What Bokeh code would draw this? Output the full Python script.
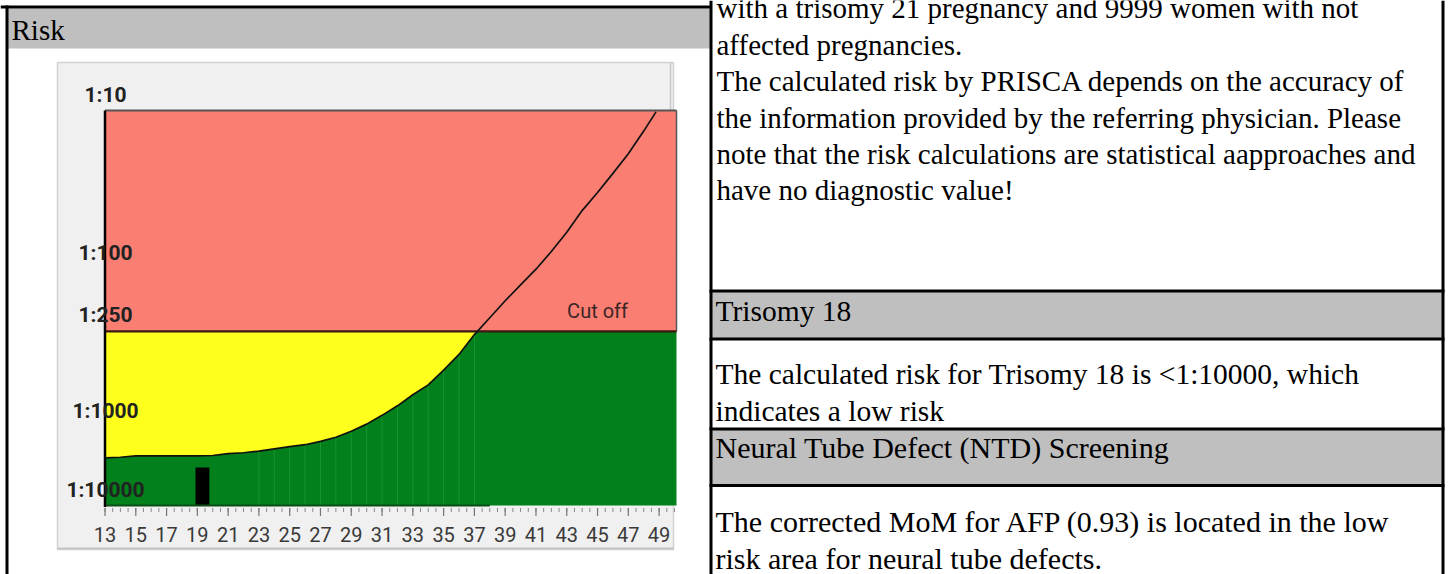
import numpy as np
from bokeh.plotting import figure
from bokeh.models import Range1d
from bokeh.core.properties import value
from bokeh.embed import file_html
from bokeh.resources import INLINE

# ---------------- data ----------------
ages = [13, 14, 15, 16, 17, 18, 19, 20, 21, 22, 23, 24, 25, 26, 27, 28, 29, 30,
        31, 32, 33, 34, 35, 36, 37, 38, 39, 40, 41, 42, 43, 44, 45, 46, 47, 48, 48.8]
risk_denominator = [2500, 2450, 2350, 2350, 2350, 2350, 2350, 2330, 2210, 2150, 2050,
                    1920, 1800, 1700, 1540, 1368, 1150, 966, 850, 740, 630, 545, 440,
                    350, 262, 205, 160, 127, 101, 78, 59, 43, 33, 25, 18.8, 13.5, 10.2]
cutoff_risk = 250
patient_age = 19.33
patient_risk = 3300
x_tick_labels = ["13", "15", "17", "19", "21", "23", "25", "27", "29", "31",
                 "33", "35", "37", "39", "41", "43", "45", "47", "49"]
y_tick_risks = [10, 100, 250, 1000, 10000]
y_tick_labels = ["1:10", "1:100", "1:250", "1:1000", "1:10000"]
cutoff_label = "Cut off"

header_left = "Risk"
para_lines = ["with a trisomy 21 pregnancy and 9999 women with not",
              "affected pregnancies.",
              "The calculated risk by PRISCA depends on the accuracy of",
              "the information provided by the referring physician. Please",
              "note that the risk calculations are statistical aapproaches and",
              "have no diagnostic value!"]
t18_header = "Trisomy 18"
t18_lines = ["The calculated risk for Trisomy 18 is <1:10000, which",
             "indicates a low risk"]
ntd_header = "Neural Tube Defect (NTD) Screening"
ntd_lines = ["The corrected MoM for AFP (0.93) is located in the low",
             "risk area for neural tube defects."]

# ---------------- layout constants (page pixels) ----------------
W, H = 1453, 574
PX0, PX1 = 0, W
PY0, PY1 = 0, H
CH_L, CH_R = 104.5, 676.0
CH_T, CH_B = 110.0, 505.0
AGE_MIN, AGE_MAX = 13.0, 50.13
POS_TOP, POS_BOT = 1.0, 3.5


def pos(r):
    l = np.log10(np.asarray(r, dtype=float))
    return np.where(l <= 3, l, 3 + (l - 3) / 2.0)


sx = (CH_R - CH_L) / (AGE_MAX - AGE_MIN)
sy = (CH_B - CH_T) / (POS_BOT - POS_TOP)

p = figure(width=W, height=H, output_backend="svg", toolbar_location=None,
           x_axis_type=None, y_axis_type=None, min_border=0,
           x_range=Range1d(PX0, PX1), y_range=Range1d(PY1, PY0))
p.outline_line_color = None
p.background_fill_color = "white"
p.border_fill_color = "white"
p.grid.visible = False
p.extra_x_ranges = {"age": Range1d(AGE_MIN - (CH_L - PX0) / sx, AGE_MIN + (PX1 - CH_L) / sx)}
p.extra_y_ranges = {"risk": Range1d(POS_TOP + (PY1 - CH_T) / sy, POS_TOP + (PY0 - CH_T) / sy)}

SERIF = value("Liberation Serif")
SANS = value("Roboto")

# ---------------- document frame ----------------
GRAY = "#bfbfbf"
p.quad(left=7, right=710, top=8, bottom=48, fill_color=GRAY, line_color=None)
p.quad(left=711, right=1442, top=291, bottom=338, fill_color=GRAY, line_color=None)
p.quad(left=711, right=1442, top=429, bottom=485, fill_color=GRAY, line_color=None)

# ---------------- chart background ----------------
p.quad(left=57, right=673, top=62, bottom=549, fill_color="#f0f0f0",
       line_color="#d2d2d2", line_width=1.5)
p.segment(x0=57, x1=673, y0=548, y1=548, line_color="#c4c4c4", line_width=2)
p.segment(x0=670, x1=670, y0=62, y1=110, line_color="#c8c8c8", line_width=1.5)

ages_a = np.array(ages, dtype=float)
cpos = pos(risk_denominator)
cut = float(pos(cutoff_risk))

# green zone
p.quad(left=AGE_MIN, right=AGE_MAX, top=cut, bottom=POS_BOT, fill_color="#01801b",
       line_color=None, x_range_name="age", y_range_name="risk")
# yellow zone between cut-off and curve
i = int(np.argmax(cpos < cut))
xc = ages_a[i - 1] + (cut - cpos[i - 1]) * (ages_a[i] - ages_a[i - 1]) / (cpos[i] - cpos[i - 1])
yx = np.concatenate([ages_a[:i], [xc]])
yy = np.concatenate([cpos[:i], [cut]])
p.varea(x=yx, y1=np.full(len(yx), cut), y2=yy, fill_color="#ffff1e",
        x_range_name="age", y_range_name="risk")
# faint strip lines in the green
mask = (ages_a >= 23) & (ages_a <= 37)
p.segment(x0=ages_a[mask], x1=ages_a[mask], y0=cpos[mask], y1=np.full(mask.sum(), POS_BOT),
          line_color="#2aa83c", line_alpha=0.55, line_width=1,
          x_range_name="age", y_range_name="risk")
# red zone
p.quad(left=AGE_MIN, right=AGE_MAX, top=POS_TOP, bottom=cut, fill_color="#fa7f72",
       line_color=None, x_range_name="age", y_range_name="risk")

# patient bar
p.vbar(x=patient_age, width=0.9, bottom=POS_BOT, top=float(pos(patient_risk)),
       fill_color="black", line_color=None, x_range_name="age", y_range_name="risk")

# chart frame lines
p.segment(x0=AGE_MIN, x1=AGE_MAX, y0=POS_TOP, y1=POS_TOP, line_color="#555555",
          line_width=2, x_range_name="age", y_range_name="risk")
p.segment(x0=AGE_MAX, x1=AGE_MAX, y0=POS_TOP, y1=cut, line_color="#555555",
          line_width=1.5, x_range_name="age", y_range_name="risk")
p.segment(x0=AGE_MIN, x1=38, y0=POS_BOT, y1=POS_BOT, line_color="#0c4d16",
          line_width=2, x_range_name="age", y_range_name="risk")
p.segment(x0=AGE_MIN, x1=AGE_MAX, y0=cut, y1=cut, line_color="#3d1812",
          line_width=2.2, x_range_name="age", y_range_name="risk")
p.segment(x0=AGE_MIN, x1=AGE_MIN, y0=POS_TOP, y1=POS_BOT + 0.01, line_color="black",
          line_width=2.5, x_range_name="age", y_range_name="risk")

# risk curve
p.line(ages_a, cpos, line_color="#111111", line_width=1.7,
       x_range_name="age", y_range_name="risk")

# x ticks
minor = np.arange(AGE_MIN, 50.01, 0.5)
p.segment(x0=minor, x1=minor, y0=np.full(len(minor), 507.5), y1=np.full(len(minor), 511.5),
          line_color="#8a8a8a", line_width=1, x_range_name="age")
major = np.array([float(t) for t in x_tick_labels])
p.segment(x0=major, x1=major, y0=np.full(len(major), 507.5), y1=np.full(len(major), 515.5),
          line_color="#777777", line_width=1.2, x_range_name="age")
p.text(x=major, y=np.full(len(major), 534), text=x_tick_labels, text_font=SANS,
       text_font_size="20px", text_color="#3a3a3a", text_align="center",
       text_baseline="middle", x_range_name="age")

# y labels
p.text(x=np.full(len(y_tick_risks), 105.0), y=pos(y_tick_risks), text=y_tick_labels,
       text_font=SANS, text_font_size="21px", text_font_style="bold", text_color="#222222",
       text_align="center", text_baseline="middle", y_offset=-16, y_range_name="risk")
p.text(x=[45.0], y=[cut], text=[cutoff_label], text_font=SANS, text_font_size="20px",
       text_color="#3a2626", text_align="center", text_baseline="middle", y_offset=-20,
       x_range_name="age", y_range_name="risk")

# ---------------- document lines ----------------
BL = "black"
p.segment(x0=[0], x1=[711], y0=[6.5], y1=[6.5], line_color=BL, line_width=3)
p.segment(x0=[6.5], x1=[6.5], y0=[5], y1=[580], line_color=BL, line_width=3)
p.segment(x0=[710.5, 1442.5], x1=[710.5, 1442.5], y0=[0, 0], y1=[580, 580],
          line_color=BL, line_width=3)
p.segment(x0=[709, 709, 709, 709], x1=[1444, 1444, 1444, 1444],
          y0=[290.5, 338.5, 428.5, 485], y1=[290.5, 338.5, 428.5, 485],
          line_color=BL, line_width=3)

# ---------------- document texts ----------------
p.text(x=[11], y=[29], text=[header_left], text_font=SERIF, text_font_size="29px",
       text_color="black", text_baseline="middle")
p.text(x=np.full(len(para_lines), 716), y=[7, 44, 80.5, 117, 153.5, 189.5], text=para_lines,
       text_font=SERIF, text_font_size="29px", text_color="black", text_baseline="middle")
p.text(x=[715], y=[310], text=[t18_header], text_font=SERIF, text_font_size="29.5px",
       text_color="black", text_baseline="middle")
p.text(x=[715, 715], y=[373, 410], text=t18_lines, text_font=SERIF,
       text_font_size="29.5px", text_color="black", text_baseline="middle")
p.text(x=[715], y=[447], text=[ntd_header], text_font=SERIF, text_font_size="30px",
       text_color="black", text_baseline="middle")
p.text(x=[715, 715], y=[521, 558], text=ntd_lines, text_font=SERIF,
       text_font_size="30px", text_color="black", text_baseline="middle")

open("out.html", "w").write(file_html(p, INLINE))
